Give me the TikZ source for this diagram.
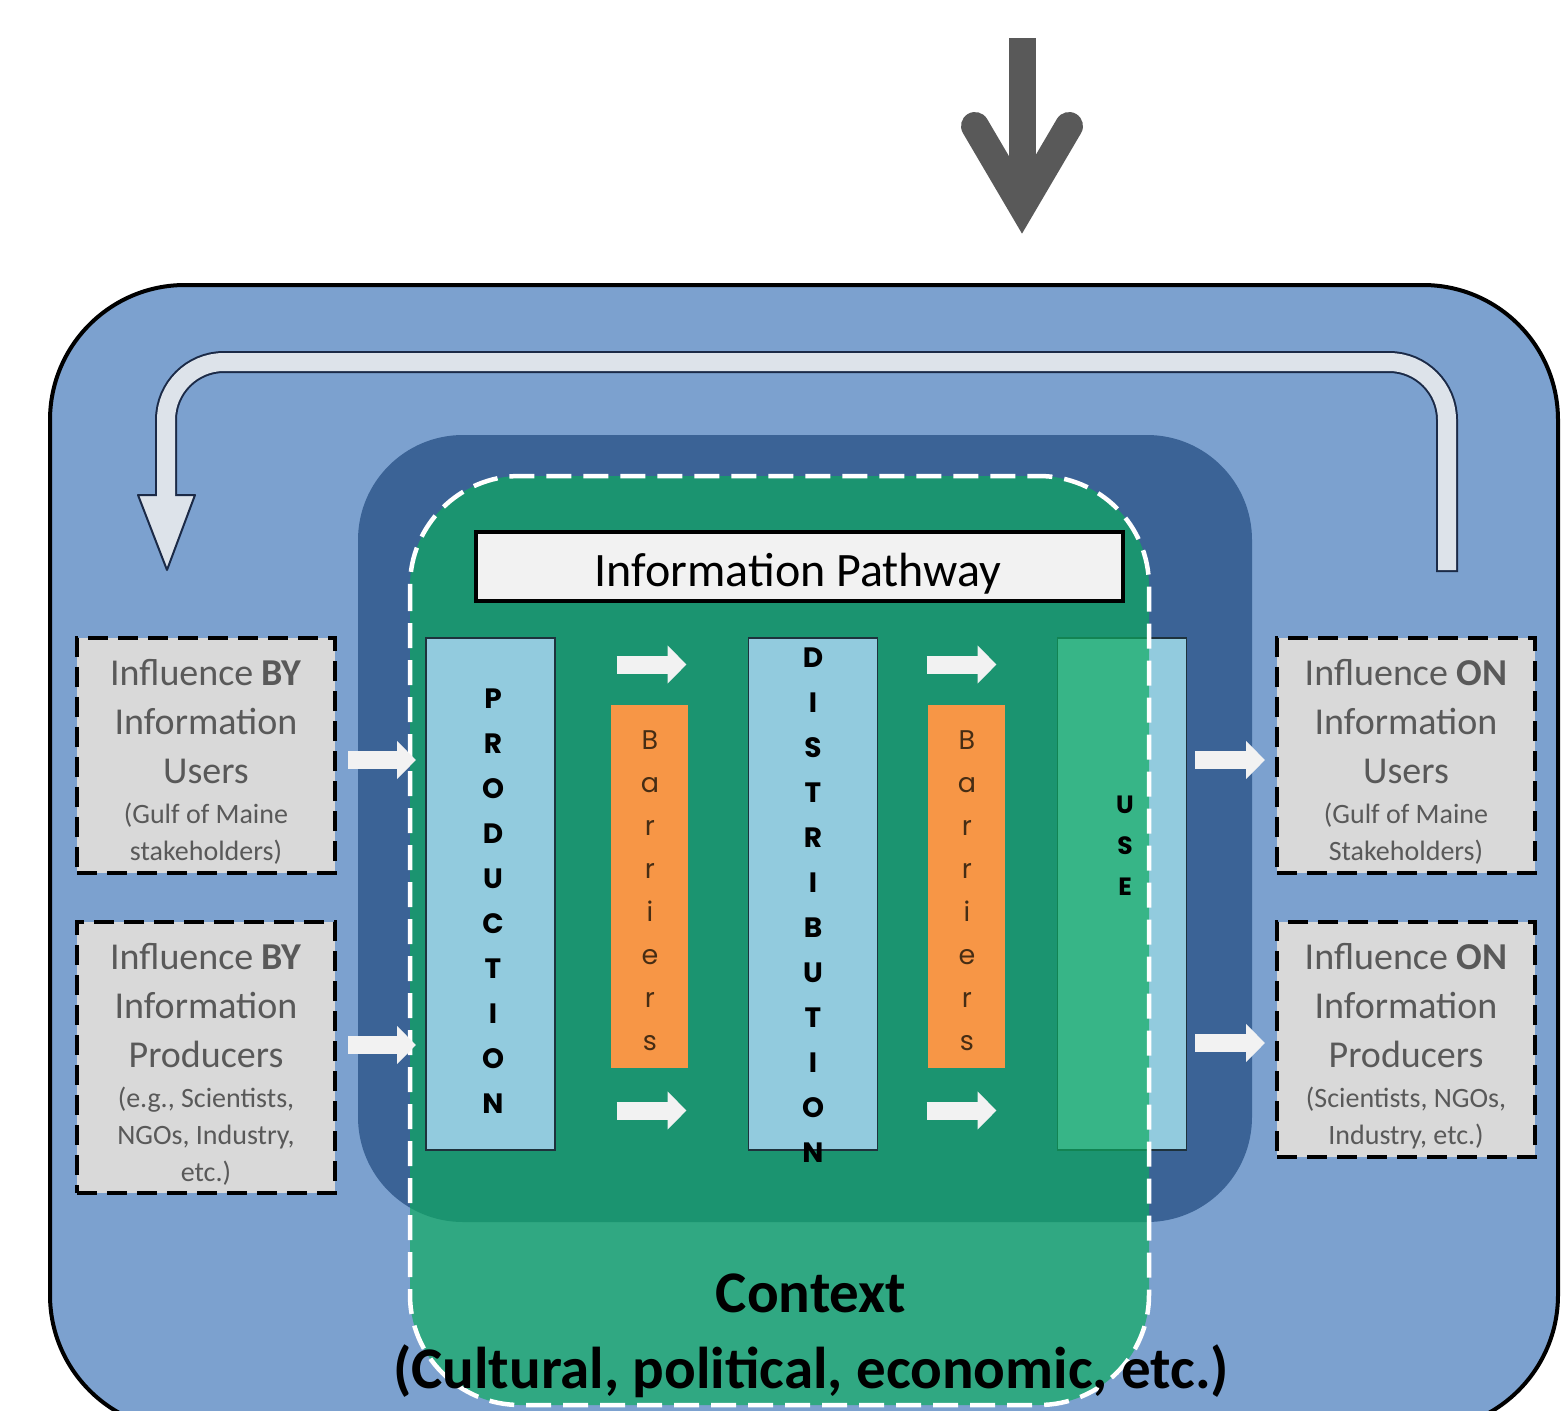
\documentclass[tikz,border=0pt]{standalone}
\usepackage{fontspec}
\setmainfont{Carlito}
\newfontfamily\geofont{Poppins}
\usetikzlibrary{arrows.meta,calc}
\definecolor{outerblue}{RGB}{124,161,207}
\definecolor{innerblue}{RGB}{59,99,150}
\definecolor{ctxgreen}{RGB}{13,172,94}
\definecolor{colblue}{RGB}{146,203,222}
\definecolor{colframe}{RGB}{30,50,60}
\definecolor{barorange}{RGB}{247,150,70}
\definecolor{barletter}{RGB}{70,45,20}
\definecolor{boxgray}{RGB}{217,217,217}
\definecolor{textgray}{RGB}{89,89,89}
\definecolor{arrowgray}{RGB}{89,89,89}
\definecolor{fbfill}{RGB}{221,227,234}
\definecolor{fbframe}{RGB}{27,42,71}
\definecolor{arrowwhite}{RGB}{242,242,242}
\definecolor{headerwhite}{RGB}{242,242,242}
\newcommand\subline{\fontsize{28}{37}\selectfont}
\newcommand\topstrut{\rule{0pt}{39pt}}
\begin{document}
\begin{tikzpicture}[x=1pt,y=-1pt,line width=1pt,
  inflbox/.style={draw=black,line width=4pt,dash pattern=on 20pt off 10pt,fill=boxgray,
    minimum width=258pt,text=textgray,align=center,inner sep=0pt,
    font=\fontsize{38}{49}\selectfont},
  column/.style={draw=colframe,line width=1.2pt,fill=colblue,minimum width=129pt,
    minimum height=512pt,inner sep=0pt},
  barrier/.style={fill=barorange,minimum width=77pt,minimum height=363pt,inner sep=0pt},
  vertletters/.style={font=\geofont\bfseries\fontsize{28}{45}\selectfont,align=center,
    text=black,inner sep=0pt},
  barletters/.style={font=\geofont\fontsize{27}{43}\selectfont,align=center,
    text=barletter,inner sep=0pt},
  flowarrow/.style={draw=arrowwhite,line width=18pt,-{Triangle[length=19pt,width=37pt]}}]
\useasboundingbox (0,0) rectangle (1561,1411);
\clip (0,0) rectangle (1561,1411);
% top arrow
\fill[arrowgray] (1009,38) rectangle (1036,200);
\draw[arrowgray,line width=28pt,line cap=round,line join=miter] (975,126) -- (1022,206) -- (1069,126);
% outer frame
\draw[line width=4pt,fill=outerblue,rounded corners=135pt] (50,285) rectangle (1558,1430);
% feedback arrow
\draw[fbframe,line width=22pt,rounded corners=58pt] (1447,572) -- (1447,362) -- (166,362) -- (166,497);
\filldraw[fill=fbfill,draw=fbframe,line width=2pt,line join=round] (138,495) -- (195,495) -- (167,570) -- cycle;
\draw[fbfill,line width=18pt,rounded corners=58pt] (1447,570) -- (1447,362) -- (166,362) -- (166,503);
% pathway region
\fill[innerblue,rounded corners=105pt] (358,435) rectangle (1252,1222);
\node[column] (use) at (1122,894) {};
% context
\fill[ctxgreen,fill opacity=0.68,rounded corners=110pt] (410,476) rectangle (1149,1405);
\draw[white,line width=4.5pt,dash pattern=on 25pt off 12pt,rounded corners=110pt] (410,476) rectangle (1149,1405);
\node[draw=black,line width=4pt,fill=headerwhite,minimum width=647pt,minimum height=69pt,
  inner sep=0pt] (pathway) at (799.5,566) {};
\node[anchor=base,inner sep=0pt,font=\fontsize{48}{58}\selectfont] (pathwaytxt) at (798,586) {Information Pathway};
\node[column] (prod) at (490.5,894) {};
\node[column] (dist) at (813,894) {};
\node[barrier] (bar1) at (649.5,886.5) {};
\node[barrier] (bar2) at (966.5,886.5) {};
\node[vertletters] (prodtxt) at (493,901.5) {P\\R\\O\\D\\U\\C\\T\\I\\O\\N};
\node[vertletters] (disttxt) at (813,905.5) {D\\I\\S\\T\\R\\I\\B\\U\\T\\I\\O\\N};
\node[vertletters,font=\geofont\bfseries\fontsize{25}{41}\selectfont] (usetxt) at (1125,846) {U\\S\\E};
\node[barletters] (bar1txt) at (650,891) {B\\a\\r\\r\\i\\e\\r\\s};
\node[barletters] (bar2txt) at (967,891) {B\\a\\r\\r\\i\\e\\r\\s};
\draw[flowarrow] ($(bar1.north west)+(6,-40)$) -- ++(70,0);
\draw[flowarrow] ($(bar1.south west)+(6,42)$) -- ++(70,0);
\draw[flowarrow] ($(bar2.north west)+(-1,-40)$) -- ++(70,0);
\draw[flowarrow] ($(bar2.south west)+(-1,42)$) -- ++(70,0);
% influences
\node[inflbox,minimum height=235pt] (byusers) at (206,755.5)
  {\topstrut Influence \textbf{BY}\\Information\\Users\\[-9pt]\subline(Gulf of Maine\\[-12pt]\subline stakeholders)};
\node[inflbox,minimum height=271pt] (byprod) at (206,1057.5)
  {\topstrut Influence \textbf{BY}\\Information\\Producers\\[-9pt]\subline(e.g., Scientists,\\[-12pt]\subline NGOs, Industry,\\[-12pt]\subline etc.)};
\node[inflbox,minimum height=235pt] (onusers) at (1406,755.5)
  {\topstrut Influence \textbf{ON}\\Information\\Users\\[-9pt]\subline(Gulf of Maine\\[-12pt]\subline Stakeholders)};
\node[inflbox,minimum height=235pt] (onprod) at (1406,1039.5)
  {\topstrut Influence \textbf{ON}\\Information\\Producers\\[-9pt]\subline(Scientists, NGOs,\\[-12pt]\subline Industry, etc.)};
\draw[flowarrow] ($(byusers.east)+(11,4.5)$) -- ++(68,0);
\draw[flowarrow] ($(byprod.east)+(11,-12.5)$) -- ++(68,0);
\draw[flowarrow] ($(onusers.west)+(-80,4.5)$) -- ++(70,0);
\draw[flowarrow] ($(onprod.west)+(-80,3.5)$) -- ++(70,0);
% context label
\node[align=center,inner sep=0pt,font=\bfseries\fontsize{59}{76}\selectfont] (ctxtxt) at (811,1336)
  {Context\\(Cultural, political, economic, etc.)};
\end{tikzpicture}
\end{document}
